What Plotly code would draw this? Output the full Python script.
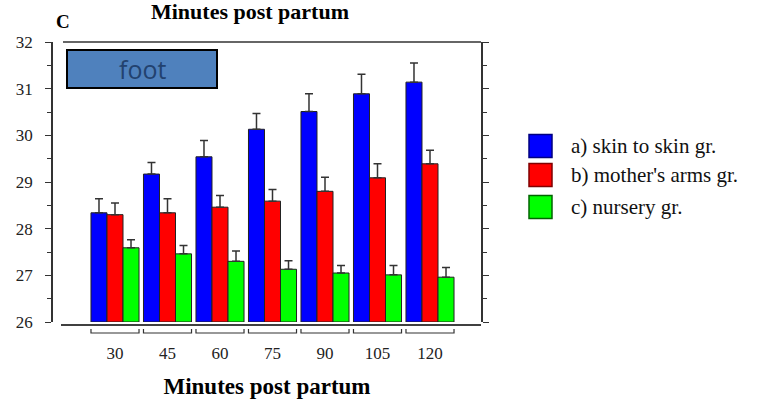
import plotly.graph_objects as go

categories = ["30", "45", "60", "75", "90", "105", "120"]
skin = [28.34, 29.17, 29.54, 30.13, 30.51, 30.89, 31.14]
skin_err = [0.30, 0.25, 0.35, 0.34, 0.38, 0.42, 0.41]
arms = [28.30, 28.34, 28.46, 28.59, 28.80, 29.09, 29.39]
arms_err = [0.25, 0.30, 0.25, 0.25, 0.30, 0.30, 0.29]
nursery = [27.59, 27.46, 27.30, 27.13, 27.05, 27.01, 26.96]
nursery_err = [0.17, 0.18, 0.22, 0.18, 0.16, 0.20, 0.21]
series_names = ["a) skin to skin gr.", "b) mother's arms gr.", "c) nursery gr."]
colors = ["#0000ff", "#ff0000", "#00ff00"]
borders = ["#000080", "#800000", "#006400"]
y_ticks = [26, 27, 28, 29, 30, 31, 32]

W, H = 758, 401
L, R, T, B = 53, 277, 42, 79
SERIF = "Liberation Serif, Times New Roman, serif"

fig = go.Figure()
for vals, errs, name, col in zip([skin, arms, nursery], [skin_err, arms_err, nursery_err], series_names, colors):
    fig.add_trace(go.Bar(
        x=categories, y=[v - 26 for v in vals], base=26, name=name,
        marker=dict(color=col, line=dict(color="#222222", width=1)),
        error_y=dict(type="data", array=errs, arrayminus=[0] * len(errs), symmetric=False,
                     color="#333333", thickness=1.5, width=4),
        showlegend=False,
    ))

pw = W - L - R
ph = H - T - B
def px_x(x):
    return (x - L) / pw
def px_y(y):
    return 1 - (y - T) / ph

shapes = []
shapes.append(dict(type="line", xref="paper", yref="paper", x0=px_x(63), x1=1, y0=1, y1=1,
                   line=dict(color="#333333", width=1.5)))
shapes.append(dict(type="line", xref="paper", yref="paper", x0=px_x(61), x1=1, y0=px_y(325), y1=px_y(325),
                   line=dict(color="#000000", width=1.5)))
half = 0.915 / 2
for i in range(len(categories)):
    x0, x1 = i - half, i + half
    yb = px_y(333)
    yt = px_y(329)
    shapes.append(dict(type="path", xref="x", yref="paper",
                       path=f"M {x0},{yt} L {x0},{yb} L {x1},{yb} L {x1},{yt}",
                       line=dict(color="#333333", width=1.2)))
shapes.append(dict(type="rect", xref="paper", yref="paper", x0=px_x(67), x1=px_x(217),
                   y0=px_y(88), y1=px_y(50), fillcolor="#4f81bd", line=dict(color="#000000", width=2)))

annotations = [
    dict(text="foot", xref="paper", yref="paper", x=px_x(142), y=px_y(69), showarrow=False,
         xanchor="center", yanchor="middle",
         font=dict(family="Open Sans, DejaVu Sans, sans-serif", size=25, color="#22426f")),
    dict(text="<b>C</b>", xref="paper", yref="paper", x=px_x(63), y=px_y(21), showarrow=False,
         xanchor="center", yanchor="middle",
         font=dict(family=SERIF, size=19, color="#000")),
]

leg_y = [146, 175, 207]
for name, col, bc, yc in zip(series_names, colors, borders, leg_y):
    shapes.append(dict(type="rect", xref="paper", yref="paper", x0=px_x(529), x1=px_x(552),
                       y0=px_y(yc + 11.5), y1=px_y(yc - 11.5), fillcolor=col, line=dict(color=bc, width=1.5)))
    annotations.append(dict(text=name, xref="paper", yref="paper", x=px_x(569), y=px_y(yc),
                            xanchor="left", yanchor="middle", showarrow=False,
                            font=dict(family=SERIF, size=21, color="#111")))

fig.update_layout(
    width=W, height=H,
    margin=dict(l=L, r=R, t=T, b=B, autoexpand=False),
    plot_bgcolor="white", paper_bgcolor="white",
    barmode="group", bargap=0.085, bargroupgap=0,
    title=dict(text="<b>Minutes post partum</b>", x=250 / W, xanchor="center", xref="container",
               y=1 - 11.5 / H, yref="container", yanchor="middle", automargin=False,
               font=dict(family=SERIF, size=22, color="#000")),
    xaxis=dict(type="category", range=[(L - 115) / 52.5, (W - R - 115) / 52.5],
               showline=False, showgrid=False, zeroline=False, automargin=False,
               ticks="outside", ticklen=16, tickcolor="rgba(0,0,0,0)",
               tickfont=dict(family=SERIF, size=17, color="#222"),
               title=dict(text="<b>Minutes post partum</b>", standoff=15,
                          font=dict(family=SERIF, size=23, color="#000"))),
    yaxis=dict(range=[26, 32], tickvals=y_ticks, showline=True, linecolor="#333", linewidth=1.5,
               mirror="ticks", ticks="outside", ticklen=6, tickwidth=1.2, tickcolor="#333",
               showgrid=False, zeroline=False, ticklabelstandoff=9, automargin=False,
               minor=dict(dtick=0.5, ticks="outside", ticklen=4, tickcolor="#333", showgrid=False),
               tickfont=dict(family=SERIF, size=17, color="#222")),
    shapes=shapes, annotations=annotations,
)

fig.write_html("out.html", config={"displayModeBar": False},
               post_script="document.body.style.margin='0';")
